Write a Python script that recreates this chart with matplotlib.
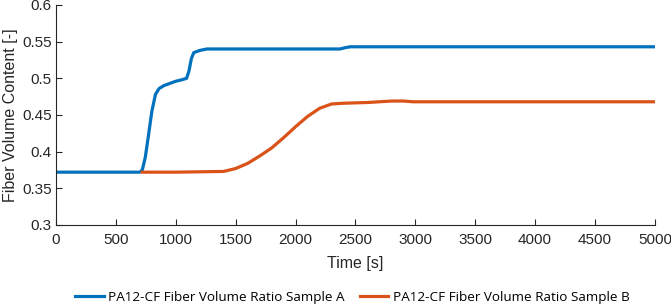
import numpy as np
import matplotlib.pyplot as plt

plt.rcParams['font.family'] = ['Liberation Sans', 'DejaVu Sans']

# sample A (blue)
t_a = [0, 700, 720, 745, 770, 800, 830, 860, 900, 950, 1000, 1050, 1090, 1110, 1130, 1150,
       1200, 1260, 1500, 2000, 2370, 2420, 2460, 3000, 4000, 5000]
v_a = [0.372, 0.372, 0.375, 0.392, 0.42, 0.455, 0.478, 0.486, 0.49, 0.493, 0.496, 0.498, 0.5, 0.51,
       0.527, 0.535, 0.538, 0.540, 0.540, 0.540, 0.540, 0.542, 0.543, 0.543, 0.543, 0.543]

# sample B (orange)
t_b = [720, 1000, 1400, 1500, 1600, 1700, 1800, 1900, 2000, 2100, 2200, 2300, 2400, 2600,
       2800, 2900, 2980, 3500, 4000, 5000]
v_b = [0.372, 0.372, 0.373, 0.377, 0.384, 0.394, 0.405, 0.419, 0.434, 0.448, 0.459, 0.465, 0.466,
       0.467, 0.469, 0.469, 0.468, 0.468, 0.468, 0.468]

label_a = 'PA12-CF Fiber Volume Ratio Sample A'
label_b = 'PA12-CF Fiber Volume Ratio Sample B'

fig = plt.figure(figsize=(6.71, 3.04), dpi=100)
ax = fig.add_axes([0.0835, 0.26, 0.8925, 0.7236])

ax.plot(t_a, v_a, color='#0072BD', lw=2.3, label=label_a)
ax.plot(t_b, v_b, color='#D95319', lw=2.3, label=label_b)

ax.set_xlim(0, 5000)
ax.set_ylim(0.3, 0.6)
ax.set_xticks(np.arange(0, 5001, 500))
ax.set_yticks([0.3, 0.35, 0.4, 0.45, 0.5, 0.55, 0.6])
ax.set_yticklabels(['0.3', '0.35', '0.4', '0.45', '0.5', '0.55', '0.6'])

for s in ['top', 'right']:
    ax.spines[s].set_visible(False)
for s in ['left', 'bottom']:
    ax.spines[s].set_color('#262626')
    ax.spines[s].set_linewidth(0.8)
ax.tick_params(direction='in', length=4, width=0.8, colors='#262626', labelsize=11)
ax.tick_params(axis='x', pad=6)
ax.tick_params(axis='y', pad=3)

ax.set_xlabel('Time [s]', fontsize=11.5, color='#262626', labelpad=6)
ax.set_ylabel('Fiber Volume Content [-]', fontsize=11.5, color='#262626', labelpad=3)

fig.legend(loc='lower center', bbox_to_anchor=(0.525, -0.04), ncol=2, frameon=False,
           prop={'family': ['Open Sans', 'DejaVu Sans'], 'size': 9.7},
           handlelength=2.1, columnspacing=1.1, handletextpad=0.35)

fig.savefig('out.png', dpi=100)
